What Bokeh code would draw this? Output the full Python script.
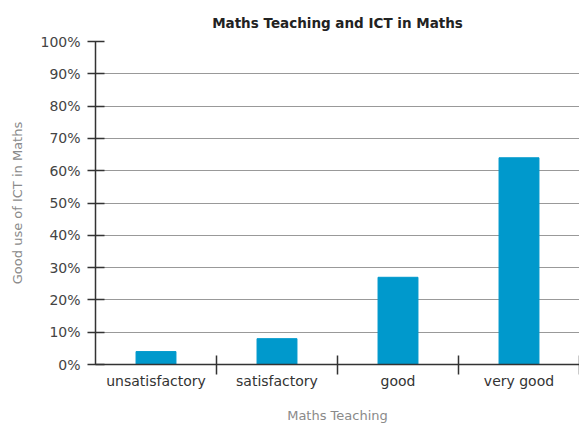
from bokeh.plotting import figure
from bokeh.models import Range1d, FixedTicker, ColumnDataSource
from bokeh.embed import file_html
from bokeh.resources import INLINE

# ---- data ----
categories = ["unsatisfactory", "satisfactory", "good", "very good"]
values = [4, 8, 27, 64]
y_ticks = [0, 10, 20, 30, 40, 50, 60, 70, 80, 90, 100]
y_tick_labels = ["0%", "10%", "20%", "30%", "40%", "50%", "60%", "70%", "80%", "90%", "100%"]
title_text = "Maths Teaching and ICT in Maths"
x_label = "Maths Teaching"
y_label = "Good use of ICT in Maths"

x_centers = [i + 0.5 for i in range(len(categories))]
x_bounds = [i + 1 for i in range(len(categories))]

src = ColumnDataSource(dict(x=x_centers, top=values, cat=categories))

FONT = "DejaVu Sans"

p = figure(width=579, height=425, output_backend="svg", toolbar_location=None,
           x_range=Range1d(0, len(categories)), y_range=Range1d(0, 100),
           min_border_left=95, min_border_right=0, min_border_top=41, min_border_bottom=61,
           title=title_text)
p.outline_line_color = None
p.background_fill_color = "white"
p.border_fill_color = "white"

p.title.align = "center"
p.title.text_font = FONT
p.title.text_font_size = "13.5px"
p.title.text_font_style = "bold"
p.title.text_color = "#222222"
p.title.standoff = 21

p.vbar(x="x", top="top", width=0.33, source=src, fill_color="#0099CC", line_color="#0099CC")

# y axis
ya = p.yaxis[0]
ya.ticker = FixedTicker(ticks=y_ticks)
ya.major_label_overrides = {t: l for t, l in zip(y_ticks, y_tick_labels)}
ya.minor_tick_line_color = None
ya.major_tick_in = 9
ya.major_tick_out = 8
ya.major_tick_line_color = "#333333"
ya.major_tick_line_width = 1.5
ya.axis_line_color = "#333333"
ya.axis_line_width = 1.5
ya.major_label_standoff = 7
ya.major_label_text_font = FONT
ya.major_label_text_font_size = "14px"
ya.major_label_text_color = "#444444"
ya.axis_label = y_label
ya.axis_label_text_font = FONT
ya.axis_label_text_font_size = "13px"
ya.axis_label_text_font_style = "normal"
ya.axis_label_text_color = "#8a8a8a"
ya.axis_label_standoff = 12

# x axis
xa = p.xaxis[0]
xa.ticker = FixedTicker(ticks=x_centers, minor_ticks=x_bounds)
xa.major_label_overrides = {t: c for t, c in zip(x_centers, categories)}
xa.major_tick_line_color = None
xa.major_tick_in = 0
xa.major_tick_out = 10
xa.minor_tick_in = 9
xa.minor_tick_out = 10
xa.minor_tick_line_color = "#333333"
xa.minor_tick_line_width = 1.5
xa.axis_line_color = "#333333"
xa.axis_line_width = 1.5
xa.major_label_standoff = -2
xa.major_label_text_font = FONT
xa.major_label_text_font_size = "14px"
xa.major_label_text_color = "#333333"
xa.axis_label = x_label
xa.axis_label_text_font = FONT
xa.axis_label_text_font_size = "13px"
xa.axis_label_text_font_style = "normal"
xa.axis_label_text_color = "#8a8a8a"
xa.axis_label_standoff = 16

p.xgrid.grid_line_color = None
p.ygrid.ticker = FixedTicker(ticks=y_ticks)
p.ygrid.grid_line_color = "#999999"
p.ygrid.grid_line_width = 1.2

open("out.html", "w").write(file_html(p, INLINE))
